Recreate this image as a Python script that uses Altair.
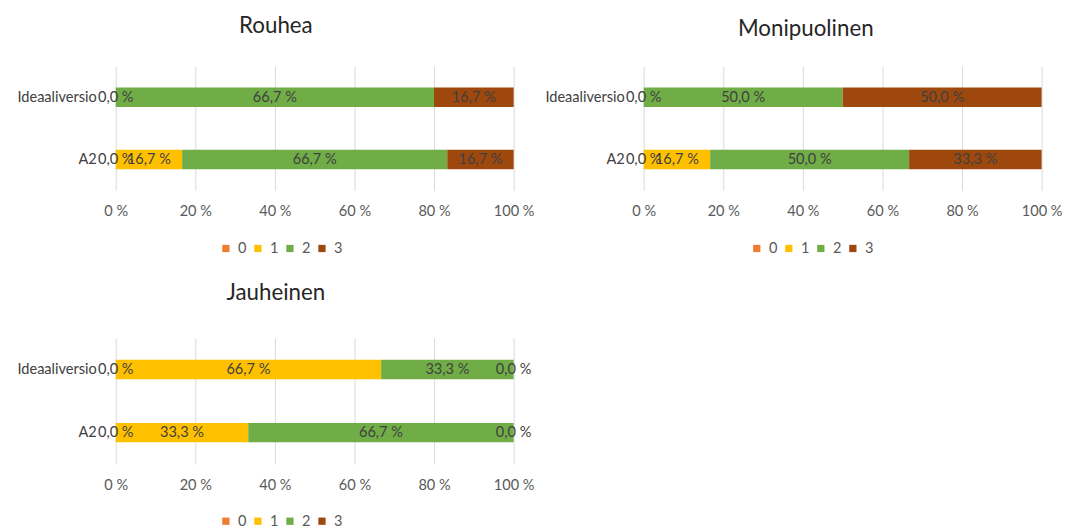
import altair as alt
import pandas as pd

categories = ["0", "1", "2", "3"]
rows = ["Ideaaliversio", "A2"]
colors = ["#ED7D31", "#FFC000", "#70AD47", "#9E480E"]

# values per category 0..3 (None = no value)
rouhea_ideaali = [0.0, None, 66.7, 16.7]
rouhea_a2 = [0.0, 16.7, 66.7, 16.7]
moni_ideaali = [0.0, None, 50.0, 50.0]
moni_a2 = [0.0, 16.7, 50.0, 33.3]
jauh_ideaali = [0.0, 66.7, 33.3, 0.0]
jauh_a2 = [0.0, 33.3, 66.7, 0.0]

FONT = "Lato"


def fmt(v):
    return f"{v:.1f}".replace(".", ",") + " %"


def build_df(ideaali, a2):
    recs = []
    for row, vals in zip(rows, [ideaali, a2]):
        for c, v in zip(categories, vals):
            recs.append({
                "row": row,
                "cat": c,
                "value": 0.0 if v is None else v,
                "label": "" if v is None else fmt(v),
            })
    return pd.DataFrame(recs)


def panel(title, ideaali, a2, title_dx, title_offset, lx, ly, height=128):
    df = build_df(ideaali, a2)
    base = alt.Chart(df).transform_stack(
        stack="value", groupby=["row"], as_=["x0", "x1"], offset="normalize",
        sort=[alt.SortField("cat", order="ascending")]
    ).transform_calculate(mid="(datum.x0 + datum.x1) / 2")

    y = alt.Y("row:N", sort=rows, title=None,
              axis=alt.Axis(domain=False, ticks=False, labelPadding=20,
                            labelFontSize=15, labelFont=FONT, labelColor="#404040"))

    bars = base.mark_bar(size=20).encode(
        x=alt.X("x0:Q", scale=alt.Scale(domain=[0, 1], nice=False), title=None,
                axis=alt.Axis(values=[0, 0.2, 0.4, 0.6, 0.8, 1.0],
                              labelExpr="format(datum.value*100, 'd') + ' %'",
                              domain=False, ticks=False, labelPadding=14,
                              labelFontSize=15, labelFont=FONT, labelColor="#595959",
                              grid=True, gridColor="#D9D9D9", labelFlush=False)),
        x2="x1:Q",
        y=y,
        color=alt.Color("cat:N", scale=alt.Scale(domain=categories, range=colors),
                        legend=alt.Legend(orient="none", direction="horizontal",
                                          legendX=lx, legendY=ly, title=None,
                                          symbolType="square", symbolSize=56,
                                          symbolStrokeWidth=0,
                                          labelFontSize=15, labelFont=FONT,
                                          labelColor="#595959", columnPadding=4,
                                          labelOffset=5)),
    )
    texts = base.transform_filter("datum.label != ''").mark_text(
        fontSize=15, font=FONT, color="#404040"
    ).encode(
        x=alt.X("mid:Q"),
        y=alt.Y("row:N", sort=rows),
        text="label:N",
    )
    return alt.layer(bars, texts).properties(
        width=410, height=height,
        title=alt.TitleParams(title, fontSize=23, font=FONT, fontWeight="normal",
                              color="#262626", dx=title_dx, offset=title_offset),
    )


p1 = panel("Rouhea", rouhea_ideaali, rouhea_a2, -40, 29, 106, 180)
p2 = panel("Monipuolinen", moni_ideaali, moni_a2, -38, 26, 109, 180)
p3 = panel("Jauheinen", jauh_ideaali, jauh_a2, -40, 34, 106, 181, height=130)

chart = alt.vconcat(
    alt.hconcat(p1, p2, spacing=11).resolve_scale(color="independent"),
    p3,
    spacing=27,
).resolve_scale(color="independent").properties(
    padding={"left": 9, "top": 0, "right": 0, "bottom": 0}
).configure_view(stroke=None)

chart.save("out.html", embed_options={"renderer": "svg", "actions": False})
